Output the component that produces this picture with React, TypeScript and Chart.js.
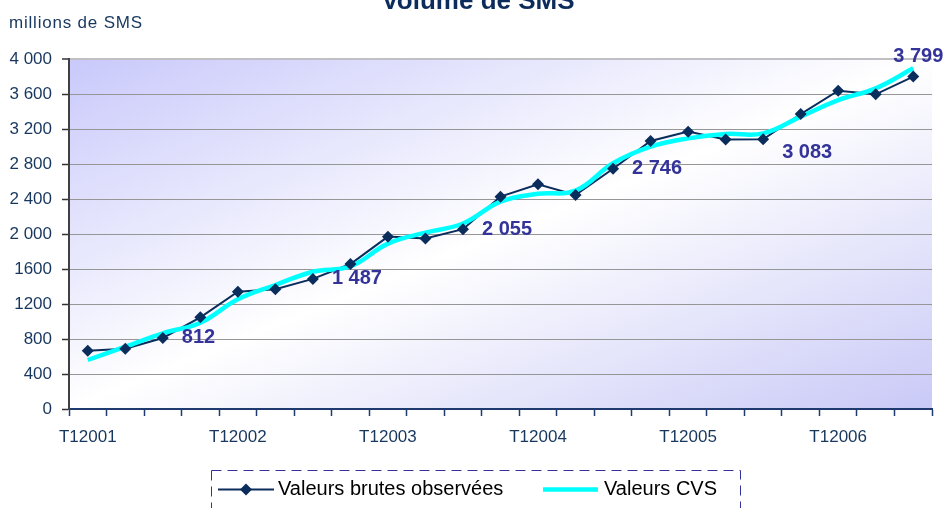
import React, { useEffect, useRef } from "react";
import { Chart, registerables } from "chart.js";

Chart.register(...registerables);

// ---- Data ----
const categories = [
  "T12001", "T22001", "T32001", "T42001",
  "T12002", "T22002", "T32002", "T42002",
  "T12003", "T22003", "T32003", "T42003",
  "T12004", "T22004", "T32004", "T42004",
  "T12005", "T22005", "T32005", "T42005",
  "T12006", "T22006", "T32006",
];

const valeursBrutes = [
  666, 689, 812, 1048,
  1341, 1368, 1487, 1657,
  1970, 1950, 2055, 2427,
  2568, 2446, 2746, 3063,
  3170, 3080, 3083, 3371,
  3638, 3596, 3799,
];

const valeursCVS = [
  560, 712, 865, 986,
  1254, 1417, 1569, 1630,
  1890, 2015, 2120, 2370,
  2460, 2495, 2808, 2998,
  3093, 3143, 3150, 3341,
  3531, 3665, 3894,
];

const labelledIndices = [2, 6, 10, 14, 18, 22];
const seriesNames = ["Valeurs brutes observées", "Valeurs CVS"];
const chartTitle = "Volume de SMS";
const unitLabel = "millions de SMS";
const yMin = 0;
const yMax = 4000;
const yStep = 400;

// ---- Styles ----
const FONT = '"Liberation Sans", Arial, sans-serif';
const NAVY = "#0a2d5c";
const AXIS_NAVY = "#1f3a6e";
const TEXT_NAVY = "#17375e";
const LABEL_COLOR = "#333399";
const CYAN = "#00ffff";

const withSpaces = (v: number) =>
  String(Math.round(v)).replace(/\B(?=(\d{3})+(?!\d))/g, " ");
const yTickFormat = (v: number) => (v >= 2000 ? withSpaces(v) : String(v));

const drawDiamond = (ctx: CanvasRenderingContext2D, x: number, y: number, r: number, color: string) => {
  ctx.beginPath();
  ctx.moveTo(x, y - r);
  ctx.lineTo(x + r, y);
  ctx.lineTo(x, y + r);
  ctx.lineTo(x - r, y);
  ctx.closePath();
  ctx.fillStyle = color;
  ctx.fill();
};

const backgroundPlugin = {
  id: "plotBackground",
  beforeDraw(chart: any) {
    const { ctx, chartArea } = chart;
    if (!chartArea) return;
    const { left, top, right, bottom } = chartArea;
    const w = right - left;
    const h = bottom - top;
    const cx = (left + right) / 2;
    const cy = (top + bottom) / 2;
    // gradient direction perpendicular to the anti-diagonal
    const len = Math.hypot(w, h);
    const ux = h / len;
    const uy = w / len;
    const proj = (w / 2) * ux + (h / 2) * uy;
    const g = ctx.createLinearGradient(cx - proj * ux, cy - proj * uy, cx + proj * ux, cy + proj * uy);
    g.addColorStop(0, "#c9c9fb");
    g.addColorStop(0.5, "#ffffff");
    g.addColorStop(1, "#c9c9f7");
    ctx.save();
    ctx.fillStyle = g;
    ctx.fillRect(left, top, w, h);
    ctx.restore();
  },
};

const decorPlugin = {
  id: "decor",
  afterDatasetsDraw(chart: any) {
    const { ctx } = chart;
    const meta = chart.getDatasetMeta(2);
    ctx.save();
    ctx.font = `bold 20px ${FONT}`;
    ctx.fillStyle = LABEL_COLOR;
    ctx.textBaseline = "middle";
    labelledIndices.forEach((idx, k) => {
      const pt = meta.data[idx];
      if (!pt) return;
      const text = withSpaces(valeursBrutes[idx]);
      if (k === labelledIndices.length - 1) {
        ctx.textAlign = "center";
        ctx.fillText(text, pt.x + 5, pt.y - 20);
      } else {
        ctx.textAlign = "left";
        const dy = idx === 18 ? 13 : 0;
        ctx.fillText(text, pt.x + 19, pt.y + dy);
      }
    });
    ctx.restore();
  },
  afterDraw(chart: any) {
    const { ctx } = chart;
    ctx.save();
    // title (partially cut off at the top)
    ctx.font = `bold 26px ${FONT}`;
    ctx.fillStyle = "#0c2c5c";
    ctx.textAlign = "center";
    ctx.textBaseline = "alphabetic";
    ctx.fillText(chartTitle, 478, 9);

    // unit label
    ctx.font = `17px ${FONT}`;
    ctx.fillStyle = TEXT_NAVY;
    ctx.textAlign = "left";
    try { (ctx as any).letterSpacing = "0.8px"; } catch (e) {}
    ctx.fillText(unitLabel, 9, 28);
    try { (ctx as any).letterSpacing = "0px"; } catch (e) {}

    // legend box
    ctx.setLineDash([10, 6]);
    ctx.strokeStyle = "#333399";
    ctx.lineWidth = 1;
    ctx.strokeRect(211.5, 470.5, 529, 60);
    ctx.setLineDash([]);

    const ly = 489.5;
    ctx.strokeStyle = NAVY;
    ctx.lineWidth = 2;
    ctx.beginPath();
    ctx.moveTo(218, ly);
    ctx.lineTo(274, ly);
    ctx.stroke();
    drawDiamond(ctx, 246, ly, 6, NAVY);

    ctx.font = `20px ${FONT}`;
    ctx.fillStyle = "#000000";
    ctx.textBaseline = "middle";
    ctx.fillText(seriesNames[0], 278, ly);

    ctx.strokeStyle = CYAN;
    ctx.lineWidth = 4.5;
    ctx.beginPath();
    ctx.moveTo(543, ly);
    ctx.lineTo(598, ly);
    ctx.stroke();
    ctx.fillText(seriesNames[1], 604, ly);
    ctx.restore();
  },
};

export default function App() {
  const canvasRef = useRef<HTMLCanvasElement | null>(null);

  useEffect(() => {
    if (!canvasRef.current) return;
    const chart = new Chart(canvasRef.current, {
      type: "line",
      data: {
        labels: categories,
        datasets: [
          {
            label: seriesNames[0],
            data: valeursBrutes,
            borderColor: NAVY,
            borderWidth: 2,
            pointRadius: 0,
            tension: 0,
            order: 3,
          },
          {
            label: seriesNames[1],
            data: valeursCVS,
            borderColor: CYAN,
            borderWidth: 4.5,
            pointRadius: 0,
            tension: 0.4,
            order: 2,
          },
          {
            label: seriesNames[0] + " (marqueurs)",
            data: valeursBrutes,
            showLine: false,
            pointStyle: "rectRot",
            pointRadius: 6,
            pointBackgroundColor: NAVY,
            pointBorderColor: NAVY,
            pointBorderWidth: 0,
            order: 1,
          },
        ],
      },
      options: {
        animation: false,
        responsive: true,
        maintainAspectRatio: false,
        layout: { padding: { left: 0, top: 59, right: 13, bottom: 0 } },
        plugins: {
          legend: { display: false },
          tooltip: { enabled: false },
          title: { display: false },
        },
        scales: {
          x: {
            type: "category",
            offset: true,
            grid: {
              offset: true,
              drawOnChartArea: false,
              drawTicks: true,
              tickLength: 7,
              tickColor: AXIS_NAVY,
              tickWidth: 1.5,
            },
            border: { display: true, color: AXIS_NAVY, width: 2 },
            ticks: {
              autoSkip: false,
              maxRotation: 0,
              minRotation: 0,
              padding: 11,
              color: TEXT_NAVY,
              font: { family: FONT, size: 17 },
              callback: (_v: any, i: number) => (i % 4 === 0 ? categories[i] : ""),
            },
            afterFit: (s: any) => {
              s.height = 99;
            },
          },
          y: {
            min: yMin,
            max: yMax,
            ticks: {
              stepSize: yStep,
              padding: 10,
              color: TEXT_NAVY,
              font: { family: FONT, size: 17 },
              callback: (v: any) => yTickFormat(Number(v)),
            },
            grid: {
              color: (c: any) => (c.tick && c.tick.value === yMax ? "#c0c0c4" : "#969696"),
              lineWidth: (c: any) => (c.tick && c.tick.value === yMax ? 2 : 1),
              tickColor: "#333333",
              tickLength: 7,
              tickWidth: 1.5,
            },
            border: { display: true, color: "#404040", width: 2 },
            afterFit: (s: any) => {
              s.width = 69;
            },
          },
        },
      },
      plugins: [backgroundPlugin, decorPlugin],
    } as any);
    return () => chart.destroy();
  }, []);

  return (
    <div
      style={{
        position: "fixed",
        left: 0,
        top: 0,
        width: 945,
        height: 508,
        background: "#ffffff",
      }}
    >
      <canvas ref={canvasRef} />
    </div>
  );
}
